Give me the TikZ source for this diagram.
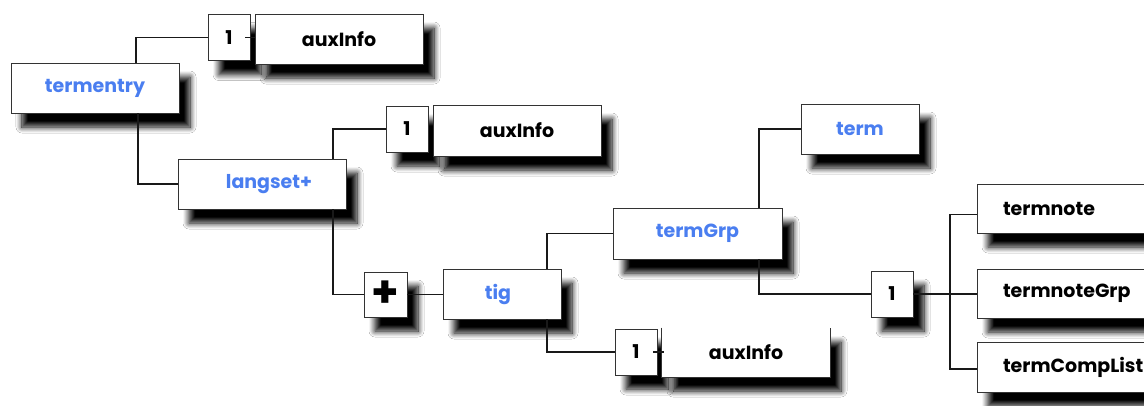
\documentclass[tikz,border=0pt]{standalone}
\usepackage{fontspec}
\setmainfont{Poppins}
\usetikzlibrary{shadows.blur}
\definecolor{tagblue}{HTML}{4A7EF0}
\begin{document}
\begin{tikzpicture}[x=1pt,y=-1pt,
  shade/.style={blur shadow={shadow xshift=11pt, shadow yshift=-14pt,
      shadow opacity=100, shadow blur radius=6pt, shadow blur steps=10}},
  elem/.style={draw=black!80, line width=0.8pt, fill=white, inner sep=0pt,
      shade, font=\bfseries\fontsize{19}{22}\selectfont},
  tagname/.style={elem, text=tagblue},
  plain/.style={elem, text=black},
  occur/.style={elem, minimum width=42pt, minimum height=46pt},
  leaf/.style={plain, minimum height=49pt, align=left, text width=131pt, inner xsep=26pt},
  wire/.style={line width=1.5pt, black!90}]
\useasboundingbox (0,0) rectangle (1144,405);
\clip (0,0) rectangle (1144,405);
\fill[white] (0,0) rectangle (1144,405);

\coordinate (bus) at (950,294);

% element boxes
\node[tagname, minimum width=168pt, minimum height=50pt] (termentry) at (95,88) {termentry\hspace{8pt}};
\node[occur] (one-a) at (229,37.5) {1};
\node[plain, minimum width=168pt, minimum height=50pt] (aux-a) at (339,39) {auxInfo\hspace{14pt}};
\node[tagname, minimum width=168pt, minimum height=50pt] (langset) at (262,184) {\hspace{14pt}langset+};
\node[occur] (one-b) at (407,129) {1};
\node[plain, minimum width=168pt, minimum height=51pt] (aux-b) at (517,130.5) {auxInfo\hspace{14pt}};
\node[occur, minimum width=43pt, minimum height=45pt, font=\bfseries\fontsize{44}{44}\selectfont] (plus) at (385.5,294.5) {\raisebox{-2pt}{+}};
\node[tagname, minimum width=118pt, minimum height=50pt] (tig) at (502,294) {\hspace{-8pt}tig};
\node[tagname, minimum width=169pt, minimum height=51pt] (termGrp) at (697.5,233.5) {termGrp\hspace{20pt}};
\node[tagname, minimum width=118pt, minimum height=50pt] (term) at (860,129) {term\hspace{12pt}};
\node[occur] (one-c) at (892,294) {1};
\node[occur] (one-d) at (636,352) {1};
\node[plain, draw=none, minimum width=168pt, minimum height=49pt] (aux-d) at (746,352.5) {auxInfo\hspace{12pt}};
\draw[draw=black!80, line width=0.8pt] (aux-d.north west) -- (aux-d.south west)
  -- (aux-d.south east) -- (aux-d.north east);
\node[leaf] (termnote) at (1068.5,208.5) {termnote};
\node[leaf] (termnoteGrp) at (1068.5,293.5) {termnoteGrp};
\node[leaf, minimum height=50pt] (termCompList) at (1068.5,367) {termCompList};

% tree lines
\draw[wire] ([xshift=41pt]termentry.north) |- (one-a.west);
\draw[wire] ([xshift=43pt]termentry.south) |- (langset.west);
\draw[wire] ([xshift=-5pt]one-a.east) -- ([xshift=-5pt]one-a.east -| aux-a.west) -- ++(5,0);
\draw[wire] ([xshift=71pt]langset.north) |- (one-b.west);
\draw[wire] ([xshift=71pt]langset.south) |- (plus.west);
\draw[wire] (plus.east) -- (plus.east -| tig.west);
\draw[wire] ([xshift=45pt]tig.north) |- (termGrp.west);
\draw[wire] ([xshift=45pt]tig.south) |- (one-d.west);
\draw[wire] ([xshift=-4pt]one-d.east) -- ([xshift=-4pt]one-d.east -| aux-d.west) -- ++(6,0);
\draw[wire] ([xshift=61.5pt]termGrp.north) |- (term.west);
\draw[wire] ([xshift=61.5pt]termGrp.south) |- (one-c.west);
\draw[wire] (one-c.east) -- (bus);
\draw[wire] ([yshift=-6pt]termnote.west) -| (bus) |- ([yshift=-2pt]termCompList.west);
\draw[wire] (bus) -- (bus -| termnoteGrp.west);
\end{tikzpicture}
\end{document}
